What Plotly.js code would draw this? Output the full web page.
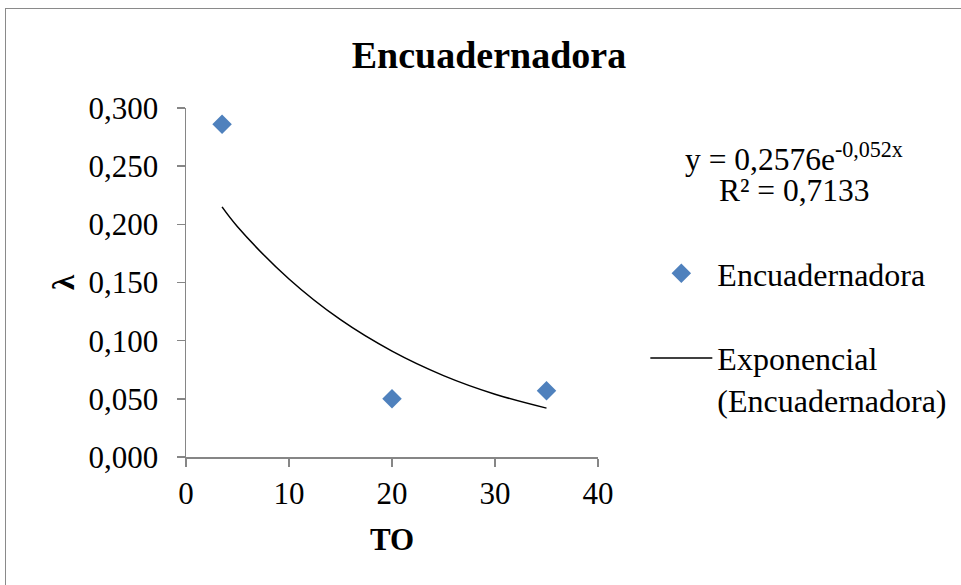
<!DOCTYPE html>
<html>
<head>
<meta charset="utf-8">
<script src="https://cdn.plot.ly/plotly-3.0.1.min.js"></script>
<style>
  html, body { margin: 0; padding: 0; background: #fff; }
  #wrap { position: relative; width: 961px; height: 585px; overflow: hidden; }
  #chart { position: absolute; left: 0; top: 0; width: 961px; height: 585px; }
  #frame { position: absolute; left: 5px; top: 8px; width: 960px; height: 590px;
           border: 1.5px solid #8a8a8a; box-sizing: border-box; pointer-events: none; }
</style>
</head>
<body>
<div id="wrap">
  <div id="chart"></div>
  <div id="frame"></div>
</div>
<script>
// Data points
const pointX = [3.5, 20, 35];
const pointY = [0.286, 0.050, 0.057];

// Exponential trendline
const trendX = [3.5, 5, 10, 15, 20, 25, 30, 35];
const trendY = [0.215, 0.198, 0.153, 0.118, 0.091, 0.070, 0.054, 0.042];

const xTicks = [0, 10, 20, 30, 40];
const yTicks = [0, 0.05, 0.10, 0.15, 0.20, 0.25, 0.30];

const seriesName = 'Encuadernadora';
const trendName = 'Exponencial<br>(Encuadernadora)';
const eqLine1 = 'y = 0,2576e<sup>-0,052x</sup>';
const eqLine2 = 'R² = 0,7133';

const serif = 'Liberation Serif, Times New Roman, serif';

const traces = [
  {
    x: pointX, y: pointY, type: 'scatter', mode: 'markers', name: seriesName,
    legendgroup: 'a',
    marker: { symbol: 'diamond', size: 15, color: '#4f81bd', line: { width: 0 } },
    cliponaxis: false
  },
  {
    x: trendX, y: trendY, type: 'scatter', mode: 'lines', name: trendName,
    legendgroup: 'b',
    line: { color: '#000000', width: 1.5, shape: 'spline' }
  }
];

const axisCommon = {
  showgrid: false, zeroline: false, showline: true,
  linecolor: '#868686', linewidth: 1.5,
  ticks: 'outside', ticklen: 8, tickwidth: 1.5, tickcolor: '#868686',
  tickfont: { family: serif, size: 31, color: '#000' }
};

const layout = {
  width: 961, height: 585,
  paper_bgcolor: '#fff', plot_bgcolor: '#fff',
  margin: { l: 186, r: 363, t: 108, b: 128, autoexpand: false },
  separators: ', ',
  font: { family: serif, color: '#000' },
  title: {
    text: '<b>Encuadernadora</b>',
    font: { family: serif, size: 38, color: '#000' },
    x: 489 / 961, xanchor: 'center', xref: 'container',
    y: 1 - 55 / 585, yanchor: 'middle', yref: 'container'
  },
  xaxis: Object.assign({}, axisCommon, {
    range: [0, 40], tickvals: xTicks, tickformat: 'd',
    title: { text: '<b>TO</b>', font: { family: serif, size: 31, color: '#000' }, standoff: 18 }
  }),
  yaxis: Object.assign({}, axisCommon, {
    range: [0, 0.3], tickvals: yTicks, tickformat: '.3f',
    ticklabelstandoff: 12,
    title: { text: '<b>λ</b>', font: { family: serif, size: 31, color: '#000' }, standoff: 4 }
  }),
  showlegend: true,
  legend: {
    x: (646 - 186) / 412.6, xanchor: 'left',
    y: (457 - 246) / 349, yanchor: 'top',
    font: { family: serif, size: 32, color: '#000' },
    bgcolor: 'rgba(0,0,0,0)',
    traceorder: 'grouped', tracegroupgap: 40,
    itemwidth: 62, valign: 'top'
  },
  annotations: [
    {
      xref: 'paper', yref: 'paper',
      x: (795 - 186) / 412.6, y: (457 - 157) / 349,
      xanchor: 'center', yanchor: 'middle', showarrow: false,
      text: eqLine1, font: { family: serif, size: 31.5, color: '#000' }
    },
    {
      xref: 'paper', yref: 'paper',
      x: (795 - 186) / 412.6, y: (457 - 190) / 349,
      xanchor: 'center', yanchor: 'middle', showarrow: false,
      text: eqLine2, font: { family: serif, size: 31.5, color: '#000' }
    }
  ]
};

Plotly.newPlot('chart', traces, layout, { staticPlot: true, displayModeBar: false });
</script>
</body>
</html>
